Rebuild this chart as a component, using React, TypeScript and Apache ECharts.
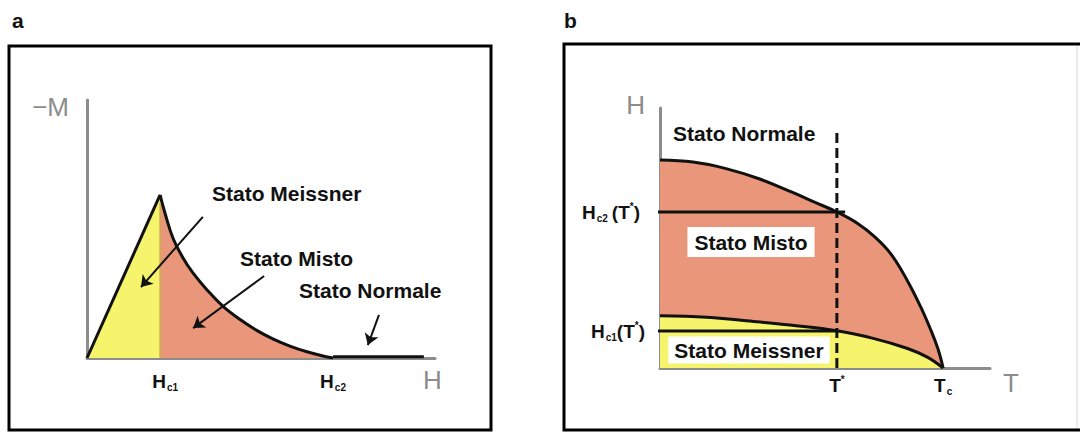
import React, { useEffect, useRef } from 'react';
import * as echarts from 'echarts';

// ---------- Panel a : -M versus H (normalised units 0-100) ----------
const hc1A = 21.0;
const hc2A = 70.7;
const peakM = 63.2;
const meissnerH = [0, 21.0];
const meissnerM = [0, 63.2];
const mixedH = [21.0, 22.4, 24.7, 27.6, 30.5, 34.5, 39.1, 44.0, 48.9, 53.4, 58.3, 63.2, 67.8, 70.7];
const mixedM = [63.2, 56.2, 46.5, 38.8, 32.9, 26.4, 20.0, 14.9, 10.6, 7.4, 4.6, 2.4, 0.8, 0];
const normalH = [70.7, 96.8];
const normalM = [0.5, 0.5];
const arrowFromH = [33.3, 50.9, 83.9];
const arrowFromM = [54.7, 31.8, 16.7];
const arrowToH = [15.5, 30.5, 80.7];
const arrowToM = [27.5, 11.6, 5.0];
const tickLabelsA = ['{pad| }{h|H}{s|c1}', '{h|H}{s|c2}'];

// ---------- Panel b : H versus T phase diagram (normalised 0-100) ----------
const tStar = 53.6;
const tC = 85.8;
const hc2T = [0, 10, 20, 30, 40, 47, 53.6, 60, 65, 70, 75, 79, 82, 84.2, 85.8];
const hc2H = [80.0, 79.2, 76.7, 72.8, 67.6, 63.7, 60.0, 55.5, 50.5, 43.8, 33.5, 23.5, 14.8, 7.5, 0];
const hc1T = [0, 14.1, 29.3, 39.4, 53.6, 64.6, 74.8, 81.0, 85.8];
const hc1H = [20.1, 19.5, 17.8, 16.5, 14.3, 11.4, 7.6, 4.2, 0];
const hc2AtTStar = 60.0;
const hc1AtTStar = 14.2;
const guideStartT = [-3.3, -2.1];
const guideEndT = [56.1, 53.6];
const dashTopH = 91.5;
const tickLabelsBx = ['{h|T}{sup|*}', '{h|T}{s|c}'];
const tickLabelsBy = ['{h|H}{s|c1}{h|(T}{sup|*}{h|)}', '{h|H}{s|c2}{sp| }{h|(T}{sup|*}{h|)}{gap| }'];

const FONT = '"Liberation Sans", Arial, sans-serif';
const SALMON = '#E9967A';
const YELLOW = '#F6F46C';
const AXIS = '#8c8c8c';
const INK = '#111111';

const pairs = (xs: number[], ys: number[]) => xs.map((x, i) => [x, ys[i]]);

const rich = {
  h: { fontFamily: FONT, fontWeight: 'bold', fontSize: 19, color: INK, lineHeight: 22 },
  s: { fontFamily: FONT, fontWeight: 'bold', fontSize: 10, color: INK, verticalAlign: 'bottom', lineHeight: 16, padding: [0, 0, 0, 1] },
  sup: { fontFamily: FONT, fontWeight: 'bold', fontSize: 10, color: INK, verticalAlign: 'top', lineHeight: 16 },
  sp: { fontSize: 6, width: 4 },
  pad: { fontSize: 6, width: 10 },
  gap: { fontSize: 6, width: 5 },
};

const lineBase = { type: 'line', symbol: 'none', showSymbol: false, silent: true };

function buildOption() {
  const stateText = (text: string, x: number, y: number, extra: any = {}) => ({
    type: 'text',
    x,
    y,
    z: 100,
    style: {
      text,
      fontFamily: FONT,
      fontWeight: 'bold',
      fontSize: 21,
      fill: INK,
      align: 'left',
      verticalAlign: 'middle',
      ...extra,
    },
  });

  return {
    animation: false,
    backgroundColor: '#ffffff',
    grid: [
      { left: 87, top: 100, width: 348, height: 258 },
      { left: 660, top: 108, width: 330, height: 260 },
    ],
    xAxis: [
      {
        gridIndex: 0, type: 'value', min: 0, max: 100,
        axisLine: { show: true, onZero: false, lineStyle: { color: AXIS, width: 3 } },
        axisTick: { show: false }, splitLine: { show: false },
        axisLabel: {
          customValues: [hc1A, hc2A],
          formatter: (v: number) => (v === hc1A ? tickLabelsA[0] : tickLabelsA[1]),
          rich, margin: 12,
        },
        name: 'H', nameLocation: 'end', nameGap: -12,
        nameTextStyle: { fontFamily: FONT, fontSize: 26, color: AXIS, align: 'left', verticalAlign: 'top', padding: [9, 0, 0, 0] },
      },
      {
        gridIndex: 1, type: 'value', min: 0, max: 100,
        axisLine: { show: true, onZero: false, lineStyle: { color: AXIS, width: 3 } },
        axisTick: { show: false }, splitLine: { show: false },
        axisLabel: {
          customValues: [tStar, tC],
          formatter: (v: number) => (v === tStar ? tickLabelsBx[0] : tickLabelsBx[1]),
          rich, margin: 6,
        },
        name: 'T', nameGap: 13, nameLocation: 'end',
        nameTextStyle: { fontFamily: FONT, fontSize: 26, color: AXIS, align: 'left', verticalAlign: 'top', padding: [2, 0, 0, 0] },
      },
    ],
    yAxis: [
      {
        gridIndex: 0, type: 'value', min: 0, max: 100,
        axisLine: { show: true, onZero: false, lineStyle: { color: AXIS, width: 3 } },
        axisTick: { show: false }, splitLine: { show: false }, axisLabel: { show: false },
        name: '\u2212M', nameLocation: 'end', nameGap: -7,
        nameTextStyle: { fontFamily: FONT, fontSize: 26, color: AXIS, align: 'right', verticalAlign: 'middle', padding: [0, 18, 0, 0] },
      },
      {
        gridIndex: 1, type: 'value', min: 0, max: 100,
        axisLine: { show: true, onZero: false, lineStyle: { color: AXIS, width: 3 } },
        axisTick: { show: false }, splitLine: { show: false },
        axisLabel: {
          customValues: [hc1AtTStar, hc2AtTStar],
          formatter: (v: number) => (v === hc1AtTStar ? tickLabelsBy[0] : tickLabelsBy[1]),
          rich, margin: 15,
        },
        name: 'H', nameLocation: 'end', nameGap: 3,
        nameTextStyle: { fontFamily: FONT, fontSize: 26, color: AXIS, align: 'right', verticalAlign: 'middle', padding: [0, 15, 0, 0] },
      },
    ],
    series: [
      // ---- panel a ----
      {
        ...lineBase, xAxisIndex: 0, yAxisIndex: 0, z: 3,
        data: pairs(meissnerH, meissnerM),
        lineStyle: { color: INK, width: 3 },
        areaStyle: { color: YELLOW, opacity: 1 },
      },
      {
        ...lineBase, xAxisIndex: 0, yAxisIndex: 0, z: 3, smooth: 0.4,
        data: pairs(mixedH, mixedM),
        lineStyle: { color: INK, width: 3 },
        areaStyle: { color: SALMON, opacity: 1 },
      },
      {
        ...lineBase, xAxisIndex: 0, yAxisIndex: 0, z: 3,
        data: [[hc1A, 0], [hc1A, peakM - 3]],
        lineStyle: { color: '#c9ad4d', width: 1.5 },
      },
      {
        ...lineBase, xAxisIndex: 0, yAxisIndex: 0, z: 4,
        data: pairs(normalH, normalM),
        lineStyle: { color: INK, width: 3 },
      },
      {
        type: 'lines', coordinateSystem: 'cartesian2d', xAxisIndex: 0, yAxisIndex: 0, z: 5, silent: true,
        symbol: ['none', 'arrow'], symbolSize: 11,
        lineStyle: { color: INK, width: 2, opacity: 1, curveness: 0 },
        data: arrowFromH.map((h, i) => ({ coords: [[h, arrowFromM[i]], [arrowToH[i], arrowToM[i]]] })),
      },
      // ---- panel b ----
      {
        ...lineBase, xAxisIndex: 1, yAxisIndex: 1, z: 3, smooth: 0.4,
        data: pairs(hc2T, hc2H),
        lineStyle: { color: INK, width: 3 },
        areaStyle: { color: SALMON, opacity: 1 },
      },
      {
        ...lineBase, xAxisIndex: 1, yAxisIndex: 1, z: 3, smooth: 0.4,
        data: pairs(hc1T, hc1H),
        lineStyle: { color: INK, width: 3 },
        areaStyle: { color: YELLOW, opacity: 1 },
      },
      {
        ...lineBase, xAxisIndex: 1, yAxisIndex: 1, z: 4, clip: false,
        data: [[guideStartT[1], hc2AtTStar], [guideEndT[0], hc2AtTStar]],
        lineStyle: { color: INK, width: 3 },
      },
      {
        ...lineBase, xAxisIndex: 1, yAxisIndex: 1, z: 4, clip: false,
        data: [[guideStartT[0] + 1.2, hc1AtTStar], [guideEndT[1], hc1AtTStar]],
        lineStyle: { color: INK, width: 3 },
      },
      {
        ...lineBase, xAxisIndex: 1, yAxisIndex: 1, z: 4, clip: false,
        data: [[tStar, 0], [tStar, dashTopH]],
        lineStyle: { color: INK, width: 3, type: [10, 5] },
      },
    ],
    graphic: [
      { type: 'rect', z: 100, shape: { x: 9, y: 46, width: 482, height: 384 }, style: { fill: 'none', stroke: '#000', lineWidth: 3 } },
      { type: 'polyline', z: 100, shape: { points: [[1080, 44], [564, 44], [564, 430], [1080, 430]] }, style: { fill: 'none', stroke: '#000', lineWidth: 3 } },
      { type: 'line', z: 100, shape: { x1: 1077, y1: 46, x2: 1077, y2: 428 }, style: { stroke: '#d8d8d8', lineWidth: 1 } },
      stateText('a', 12, 20),
      stateText('b', 564, 20),
      stateText('Stato Meissner', 212, 193),
      stateText('Stato Misto', 240, 258),
      stateText('Stato Normale', 299, 290),
      stateText('Stato Normale', 673, 133),
      stateText('Stato Misto', 751, 242, { align: 'center', backgroundColor: '#ffffff', padding: [5, 7, 4, 7] }),
      stateText('Stato Meissner', 749, 350, { align: 'center', backgroundColor: '#ffffff', padding: [3, 6, 3, 6] }),
    ],
  };
}

export default function App() {
  const ref = useRef<HTMLDivElement>(null);
  useEffect(() => {
    document.body.style.margin = '0';
    if (!ref.current) return;
    const chart = echarts.init(ref.current, null, { renderer: 'svg' });
    chart.setOption(buildOption() as any);
    return () => chart.dispose();
  }, []);
  return <div ref={ref} style={{ position: 'absolute', left: 0, top: 0, width: 1080, height: 432 }} />;
}
